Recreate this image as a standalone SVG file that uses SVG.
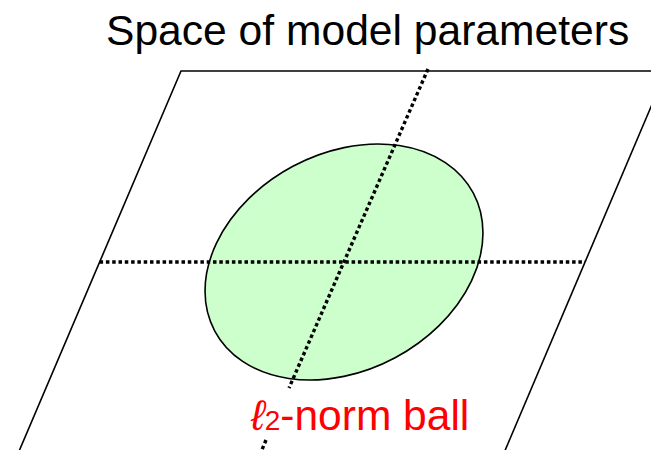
<svg xmlns="http://www.w3.org/2000/svg" width="651" height="450" viewBox="0 0 651 450">
<style>
.edge{stroke:#000;stroke-width:1.6;fill:none}
.dot{stroke:#000;stroke-width:3.4;stroke-dasharray:3.5 2.8;fill:none}
.title{font-family:"Liberation Sans",Arial,sans-serif;font-size:42.6px;fill:#000}
.lbl{font-family:"Liberation Sans",Arial,sans-serif;font-size:42.5px;fill:#ff0000}
</style>
<rect width="651" height="450" fill="#fff"/>
<g id="title"><text class="title" x="106" y="45">Space of model parameters</text></g>
<g id="plane">
<path class="edge" d="M15.3 460 L181 71 L680 71"/>
<path class="edge" d="M670 62 L501 460"/>
</g>
<g id="ball">
<ellipse cx="344" cy="262" rx="146.5" ry="108.5" transform="rotate(-28.1 344 262)" fill="#ccffcc" stroke="#000" stroke-width="1.6"/>
</g>
<g id="axes">
<line class="dot" x1="99.6" y1="262" x2="585" y2="262"/>
<line class="dot" x1="428" y1="69" x2="289" y2="388"/>
<line class="dot" x1="266" y1="440" x2="261" y2="452"/>
</g>
<g id="label"><text class="lbl" x="251" y="430"><tspan font-style="italic">ℓ</tspan><tspan font-size="28">2</tspan>-norm ball</text></g>
</svg>
